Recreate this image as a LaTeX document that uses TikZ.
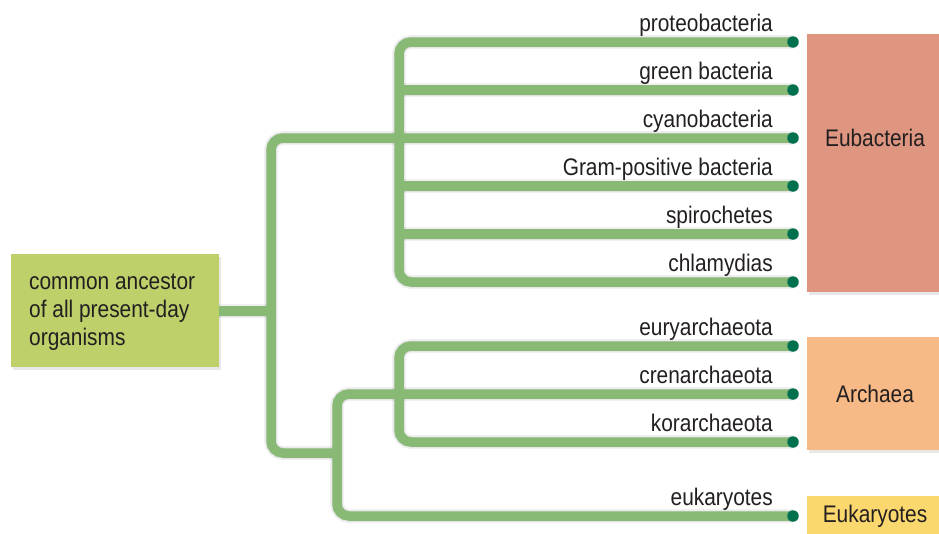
\documentclass[tikz,border=0pt]{standalone}
\usepackage{fontspec}
\setmainfont{Liberation Sans}[FakeStretch=0.87]
\usetikzlibrary{shadows,calc}
\definecolor{branchgreen}{HTML}{88BA76}
\definecolor{dotgreen}{HTML}{00704F}
\definecolor{ancgreen}{HTML}{BDD06A}
\definecolor{eubac}{HTML}{DE9680}
\definecolor{archa}{HTML}{F7B985}
\definecolor{eukar}{HTML}{FBD86E}
\definecolor{txt}{HTML}{231F20}
\tikzset{
  branch/.style={line width=9.5pt, draw=branchgreen, rounded corners=12pt},
  branchshadow/.style={line width=#1, draw=black, opacity=0.06, rounded corners=12pt},
  tipdot/.style={circle, fill=dotgreen, inner sep=0pt, minimum size=11.5pt},
  leaflabel/.style={anchor=base east, text=txt, inner sep=0pt, font=\fontsize{24}{28}\selectfont},
  groupbox/.style={draw=none, inner sep=0pt, drop shadow={opacity=0.18, shadow xshift=2pt, shadow yshift=-3pt}},
  grouptext/.style={text=txt, inner sep=0pt, font=\fontsize{24}{28}\selectfont},
  ancbox/.style={fill=ancgreen, anchor=north west, minimum width=208pt, minimum height=113pt,
    inner sep=0pt, drop shadow={opacity=0.18, shadow xshift=2pt, shadow yshift=-3pt}},
  anctext/.style={anchor=base west, inner sep=0pt, align=left, text=txt, font=\fontsize{24}{28}\selectfont}
}
\newcommand\treepaths[1]{%
  \draw[#1] (anc.east |- j0) -- (j0);
  \draw[#1] (d3) -| (j0) |- (j1);
  \draw[#1] (d1) -| (e0) |- (d6);
  \draw[#1] (e0 |- d2) -- (d2);
  \draw[#1] (e0 |- d4) -- (d4);
  \draw[#1] (e0 |- d5) -- (d5);
  \draw[#1] (d8) -| (j1) |- (d10);
  \draw[#1] (d7) -| (r0) |- (d9);
}
\begin{document}
\begin{tikzpicture}[x=1pt, y=-1pt]
\useasboundingbox (0,0) rectangle (939,533);
\fill[white] (0,0) rectangle (939,533);
% group boxes
\node[groupbox, fill=eubac, minimum width=132pt, minimum height=258pt] (eubox) at (873,163) {};
\node[groupbox, fill=archa, minimum width=132pt, minimum height=113pt] (arbox) at (873,393.5) {};
\node[groupbox, fill=eukar, minimum width=132pt, minimum height=38pt] (eubox2) at (873,515) {};
\node[grouptext] (eutext) at (875,138) {Eubacteria};
\node[grouptext] (artext) at (875,394) {Archaea};
\node[grouptext] (eketext) at (875,516) {Eukaryotes};
% ancestor
\node[ancbox] (anc) at (11,254) {};
\node[anctext] (anctxt) at (29,345) {common ancestor\\[0pt]of all present-day\\[0pt]organisms};
% coordinates
\coordinate (j0) at (271,311);
\coordinate (j1) at (337,453);
\coordinate (e0) at (399,162);
\coordinate (r0) at (399,394);
\coordinate (d1) at (793,42);
\coordinate (d2) at (793,90);
\coordinate (d3) at (793,138);
\coordinate (d4) at (793,186);
\coordinate (d5) at (793,234);
\coordinate (d6) at (793,282);
\coordinate (d7) at (793,346);
\coordinate (d8) at (793,394);
\coordinate (d9) at (793,442);
\coordinate (d10) at (793,516);
% shadows of branches
\begin{scope}[shift={(2,5)}]
  \treepaths{branchshadow=14pt}
  \treepaths{branchshadow=11pt}
\end{scope}
\treepaths{branch}
% dots
\foreach \i in {1,...,10} {\node[tipdot] (dot\i) at (d\i) {};}
% labels
\node[leaflabel] (l1) at ($(d1)+(-20,-11)$) {proteobacteria};
\node[leaflabel] (l2) at ($(d2)+(-20,-11)$) {green bacteria};
\node[leaflabel] (l3) at ($(d3)+(-20,-11)$) {cyanobacteria};
\node[leaflabel] (l4) at ($(d4)+(-20,-11)$) {Gram-positive bacteria};
\node[leaflabel] (l5) at ($(d5)+(-20,-11)$) {spirochetes};
\node[leaflabel] (l6) at ($(d6)+(-20,-11)$) {chlamydias};
\node[leaflabel] (l7) at ($(d7)+(-20,-11)$) {euryarchaeota};
\node[leaflabel] (l8) at ($(d8)+(-20,-11)$) {crenarchaeota};
\node[leaflabel] (l9) at ($(d9)+(-20,-11)$) {korarchaeota};
\node[leaflabel] (l10) at ($(d10)+(-20,-11)$) {eukaryotes};
\end{tikzpicture}
\end{document}
